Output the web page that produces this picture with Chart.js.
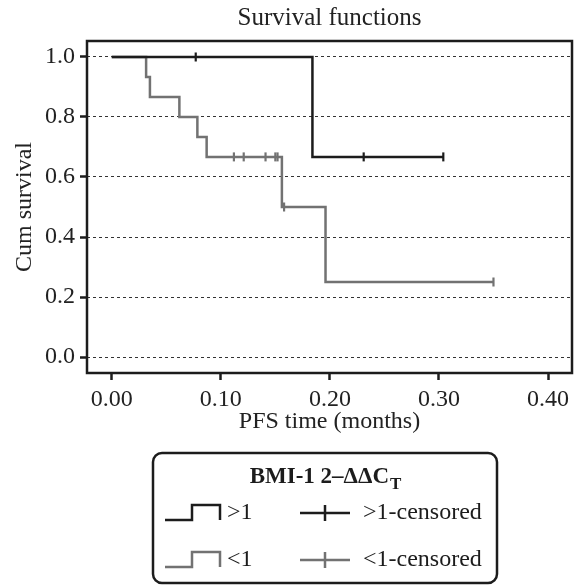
<!DOCTYPE html>
<html>
<head>
<meta charset="utf-8">
<title>Survival functions</title>
<script src="https://cdn.jsdelivr.net/npm/chart.js@4"></script>
<style>
  html, body { margin: 0; padding: 0; background: #fff; }
  #wrap { width: 579px; height: 587px; }
</style>
</head>
<body>
<div id="wrap"><canvas id="kmChart" width="579" height="587"></canvas></div>
<script>
// Kaplan-Meier steps, BMI-1 2^-ddCt > 1
const highTimes = [0, 0.184, 0.304];
const highSurv = [1.0, 0.667, 0.667];
const highCensTimes = [0.077, 0.231, 0.304];
const highCensSurv = [1.0, 0.667, 0.667];

// BMI-1 2^-ddCt < 1
const lowTimes = [0, 0.0315, 0.035, 0.062, 0.0785, 0.087, 0.156, 0.196, 0.350];
const lowSurv = [1.0, 0.933, 0.867, 0.800, 0.733, 0.667, 0.500, 0.250, 0.250];
const lowCensTimes = [0.112, 0.121, 0.141, 0.150, 0.152, 0.158, 0.350];
const lowCensSurv = [0.667, 0.667, 0.667, 0.667, 0.667, 0.500, 0.250];

const xTicks = [0, 0.1, 0.2, 0.3, 0.4];
const yTicks = [0, 0.2, 0.4, 0.6, 0.8, 1.0];

const BLACK = "#1c1c1c";
const GREY = "#727272";
const SERIF = "'Liberation Serif', 'Times New Roman', serif";

function pts(xs, ys) {
  return xs.map((x, i) => ({ x: x, y: ys[i] }));
}

// full box around the plot + title centred over it
const frame = {
  id: "frame",
  afterDatasetsDraw(chart) {
    const { ctx, chartArea: a } = chart;
    ctx.save();
    ctx.strokeStyle = BLACK;
    ctx.lineWidth = 2.5;
    ctx.strokeRect(a.left, a.top, a.right - a.left, a.bottom - a.top);
    ctx.fillStyle = "#222";
    ctx.font = "25px " + SERIF;
    ctx.textAlign = "center";
    ctx.textBaseline = "alphabetic";
    ctx.fillText("Survival functions", (a.left + a.right) / 2, 25);
    ctx.restore();
  }
};

// legend box drawn under the axis
const kmLegend = {
  id: "kmLegend",
  afterDraw(chart) {
    const ctx = chart.ctx;
    const left = 153, top = 453, w = 344, h = 130;
    ctx.save();
    ctx.strokeStyle = BLACK;
    ctx.lineWidth = 2.5;
    ctx.beginPath();
    ctx.roundRect(left, top, w, h, 9);
    ctx.stroke();

    // title with subscript T
    const main = "BMI-1 2\u2013\u0394\u0394C";
    ctx.fillStyle = BLACK;
    ctx.textBaseline = "alphabetic";
    ctx.font = "bold 23px " + SERIF;
    const w1 = ctx.measureText(main).width;
    ctx.font = "bold 17px " + SERIF;
    const w2 = ctx.measureText("T").width;
    let tx = left + w / 2 - (w1 + w2) / 2;
    ctx.font = "bold 23px " + SERIF;
    ctx.fillText(main, tx, top + 30);
    ctx.font = "bold 17px " + SERIF;
    ctx.fillText("T", tx + w1 + 1, top + 36);

    const rows = [
      { color: BLACK, label: ">1", y: top + 67 },
      { color: GREY, label: "<1", y: top + 114 }
    ];
    ctx.font = "24px " + SERIF;
    rows.forEach(r => {
      ctx.strokeStyle = r.color;
      ctx.lineWidth = 2.5;
      ctx.beginPath();
      ctx.moveTo(left + 12, r.y);
      ctx.lineTo(left + 39, r.y);
      ctx.lineTo(left + 39, r.y - 15);
      ctx.lineTo(left + 67, r.y - 15);
      ctx.lineTo(left + 67, r.y);
      ctx.stroke();

      ctx.beginPath();
      ctx.moveTo(left + 147, r.y - 7);
      ctx.lineTo(left + 197, r.y - 7);
      ctx.moveTo(left + 172, r.y - 15);
      ctx.lineTo(left + 172, r.y + 1);
      ctx.stroke();

      ctx.fillStyle = BLACK;
      ctx.fillText(r.label, left + 74, r.y - 1);
      ctx.fillText(r.label + "-censored", left + 210, r.y - 1);
    });
    ctx.restore();
  }
};

Chart.defaults.font.family = SERIF;
Chart.defaults.color = "#222";

new Chart(document.getElementById("kmChart"), {
  type: "line",
  data: {
    datasets: [
      {
        label: ">1",
        data: pts(highTimes, highSurv),
        stepped: "before",
        borderColor: BLACK,
        borderWidth: 2.5,
        pointRadius: 0,
        fill: false
      },
      {
        label: ">1-censored",
        data: pts(highCensTimes, highCensSurv),
        showLine: false,
        pointStyle: "line",
        rotation: 90,
        pointRadius: 4.5,
        borderColor: BLACK,
        borderWidth: 2.2
      },
      {
        label: "<1",
        data: pts(lowTimes, lowSurv),
        stepped: "before",
        borderColor: GREY,
        borderWidth: 2.5,
        pointRadius: 0,
        fill: false
      },
      {
        label: "<1-censored",
        data: pts(lowCensTimes, lowCensSurv),
        showLine: false,
        pointStyle: "line",
        rotation: 90,
        pointRadius: 4.5,
        borderColor: GREY,
        borderWidth: 2.2
      }
    ]
  },
  options: {
    responsive: false,
    animation: false,
    devicePixelRatio: 1,
    layout: { padding: { top: 41, right: 7, bottom: 144, left: 0 } },
    plugins: {
      legend: { display: false },
      tooltip: { enabled: false },
      title: { display: false }
    },
    scales: {
      x: {
        type: "linear",
        min: -0.0227,
        max: 0.422,
        afterBuildTicks: axis => { axis.ticks = xTicks.map(v => ({ value: v })); },
        afterFit: scale => { scale.height = 70; },
        ticks: {
          padding: 5,
          font: { size: 24 },
          color: "#222",
          callback: v => Number(v).toFixed(2)
        },
        grid: {
          drawOnChartArea: false,
          tickLength: 7,
          tickWidth: 2.5,
          tickColor: BLACK
        },
        border: { display: false },
        title: {
          display: true,
          text: "PFS time (months)",
          color: "#222",
          font: { size: 24 },
          padding: { top: 0, bottom: 6.6 }
        }
      },
      y: {
        type: "linear",
        min: -0.0533,
        max: 1.0533,
        afterBuildTicks: axis => { axis.ticks = yTicks.map(v => ({ value: v })); },
        afterFit: scale => { scale.width = 87; },
        ticks: {
          padding: 5,
          font: { size: 24 },
          color: "#222",
          callback: v => Number(v).toFixed(1)
        },
        grid: {
          color: "#333",
          lineWidth: 1,
          tickLength: 7,
          tickWidth: 2.5,
          tickColor: BLACK,
          tickBorderDash: []
        },
        border: { display: false, dash: [3, 3] },
        title: {
          display: true,
          text: "Cum survival",
          color: "#222",
          font: { size: 24 },
          padding: { top: 10.6, bottom: 0 }
        }
      }
    }
  },
  plugins: [frame, kmLegend]
});
</script>
</body>
</html>
